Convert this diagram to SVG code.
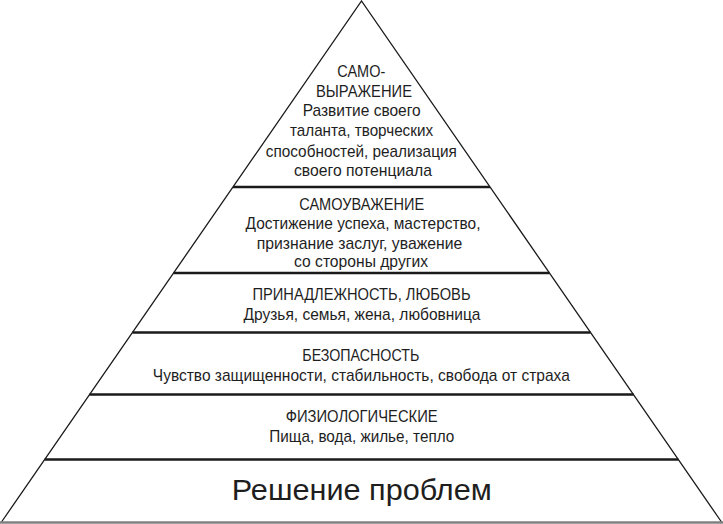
<svg xmlns="http://www.w3.org/2000/svg" width="723" height="524" viewBox="0 0 723 524">
<style>
  .bg { fill: #ffffff; }
  .side { fill: none; stroke: #1a1a1a; stroke-width: 1.3; }
  .sep { stroke: #1a1a1a; stroke-width: 2.5; }
  .base { stroke: #808080; stroke-width: 2.5; }
  text { font-family: "Liberation Sans", Arial, sans-serif; fill: #1e1e1e; text-anchor: middle; }
  .t { font-size: 17px; }
  .big { font-size: 29px; }
</style>
<rect class="bg" x="0" y="0" width="723" height="524"/>
<g id="connectors">
  <path class="side" d="M1.5,522 L361.5,1 L721.5,522"/>
  <line class="sep" x1="233" y1="187" x2="490" y2="187"/>
  <line class="sep" x1="173.5" y1="273" x2="549.5" y2="273"/>
  <line class="sep" x1="132.5" y1="332.5" x2="590.5" y2="332.5"/>
  <line class="sep" x1="89.5" y1="394.5" x2="633.5" y2="394.5"/>
  <line class="sep" x1="44.7" y1="459.5" x2="678.3" y2="459.5"/>
  <line class="base" x1="0" y1="522.5" x2="723" y2="522.5"/>
</g>
<g id="tier-self-expression">
  <text class="t" x="361.3" y="77" textLength="48" lengthAdjust="spacingAndGlyphs">САМО-</text>
  <text class="t" x="364" y="96.5" textLength="96" lengthAdjust="spacingAndGlyphs">ВЫРАЖЕНИЕ</text>
  <text class="t" x="361.7" y="116" textLength="118" lengthAdjust="spacingAndGlyphs">Развитие своего</text>
  <text class="t" x="361.5" y="136" textLength="143" lengthAdjust="spacingAndGlyphs">таланта, творческих</text>
  <text class="t" x="361.3" y="156.5" textLength="191" lengthAdjust="spacingAndGlyphs">способностей, реализация</text>
  <text class="t" x="363" y="176" textLength="138" lengthAdjust="spacingAndGlyphs">своего потенциала</text>
</g>
<g id="tier-self-esteem">
  <text class="t" x="361.7" y="209.5" textLength="125" lengthAdjust="spacingAndGlyphs">САМОУВАЖЕНИЕ</text>
  <text class="t" x="363" y="229" textLength="235" lengthAdjust="spacingAndGlyphs">Достижение успеха, мастерство,</text>
  <text class="t" x="359.5" y="248.5" textLength="205.6" lengthAdjust="spacingAndGlyphs">признание заслуг, уважение</text>
  <text class="t" x="361" y="267" textLength="134" lengthAdjust="spacingAndGlyphs">со стороны других</text>
</g>
<g id="tier-belonging">
  <text class="t" x="361.5" y="300" textLength="218" lengthAdjust="spacingAndGlyphs">ПРИНАДЛЕЖНОСТЬ, ЛЮБОВЬ</text>
  <text class="t" x="362" y="319.5" textLength="237" lengthAdjust="spacingAndGlyphs">Друзья, семья, жена, любовница</text>
</g>
<g id="tier-safety">
  <text class="t" x="360.8" y="361" textLength="117" lengthAdjust="spacingAndGlyphs">БЕЗОПАСНОСТЬ</text>
  <text class="t" x="361.3" y="381" textLength="417" lengthAdjust="spacingAndGlyphs">Чувство защищенности, стабильность, свобода от страха</text>
</g>
<g id="tier-physiological">
  <text class="t" x="361.7" y="422" textLength="152" lengthAdjust="spacingAndGlyphs">ФИЗИОЛОГИЧЕСКИЕ</text>
  <text class="t" x="361.8" y="441.5" textLength="185" lengthAdjust="spacingAndGlyphs">Пища, вода, жилье, тепло</text>
</g>
<g id="tier-problem-solving">
  <text class="big" x="361.8" y="500" textLength="260" lengthAdjust="spacingAndGlyphs">Решение проблем</text>
</g>
</svg>
